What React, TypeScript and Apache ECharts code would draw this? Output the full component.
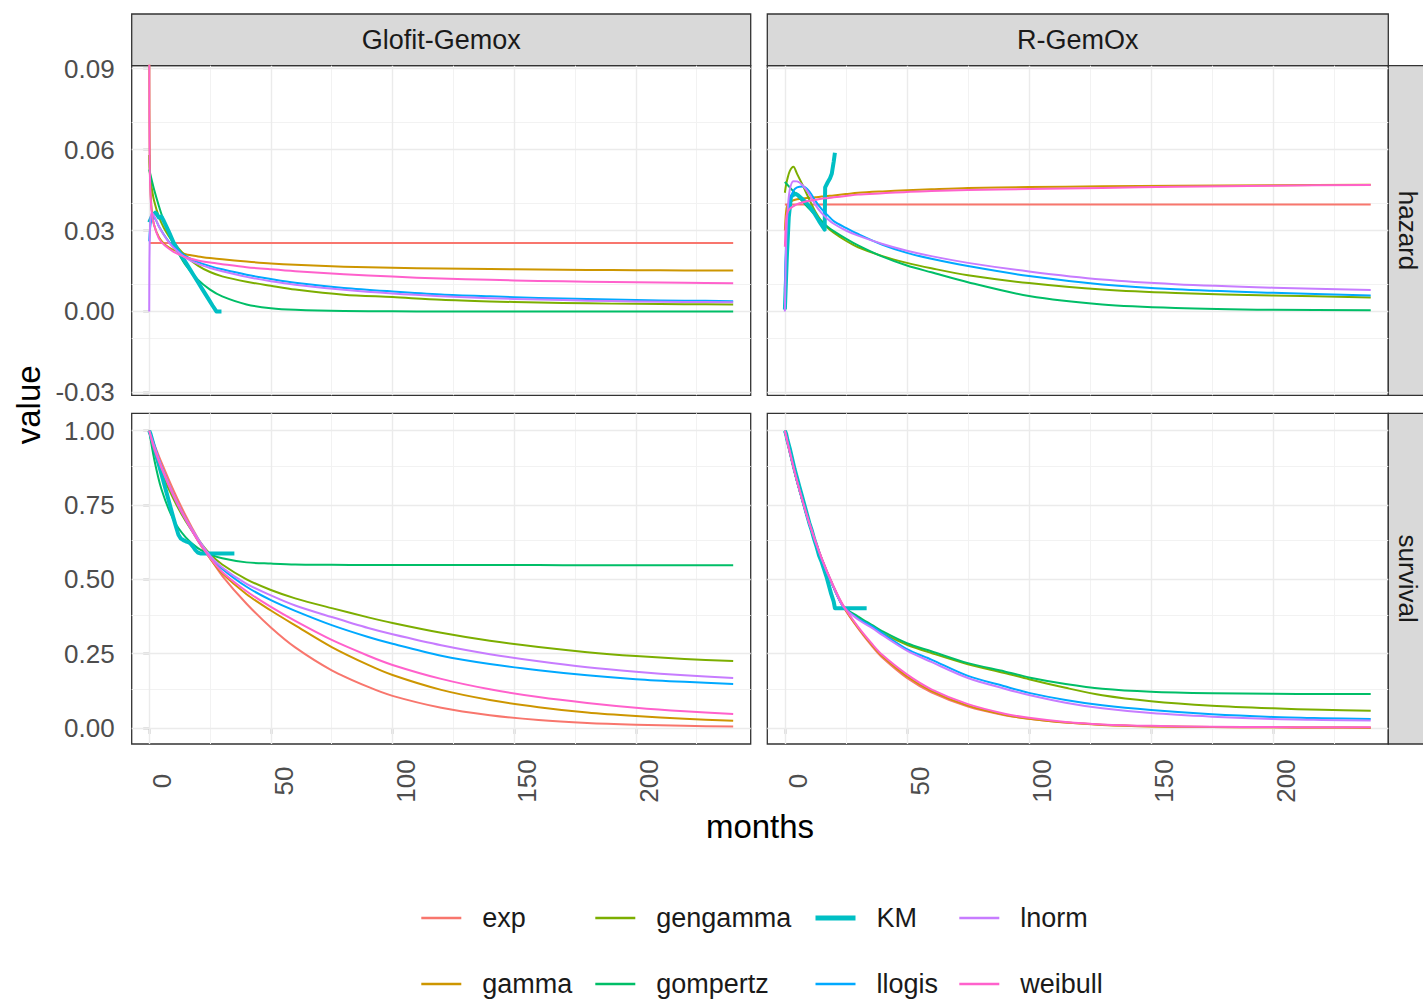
import React, { useEffect, useRef } from "react";
import * as echarts from "echarts";

// ---------- model names and colours ----------
const MODELS = ["exp", "gamma", "gengamma", "gompertz", "KM", "llogis", "lnorm", "weibull"];
const MODEL_COLORS: Record<string, string> = {
  exp: "#F8766D",
  gamma: "#CD9600",
  gengamma: "#7CAE00",
  gompertz: "#00BE67",
  KM: "#00BFC4",
  llogis: "#00A9FF",
  lnorm: "#C77CFF",
  weibull: "#FF61CC",
};

const COLUMN_LABELS = ["Glofit-Gemox", "R-GemOx"];
const ROW_LABELS = ["hazard", "survival"];

// ---------- axis breaks ----------
const MONTH_TICKS = [0, 50, 100, 150, 200];
const MONTH_MINOR = [25, 75, 125, 175, 225];
const HAZARD_TICKS = [-0.03, 0, 0.03, 0.06, 0.09];
const HAZARD_MINOR = [-0.015, 0.015, 0.045, 0.075];
const SURVIVAL_TICKS = [0, 0.25, 0.5, 0.75, 1];
const SURVIVAL_MINOR = [0.125, 0.375, 0.625, 0.875];

// ---------- hazard, Glofit-Gemox ----------
const HZ_G_T = [0, 0.05, 0.2, 0.5, 1, 2, 4, 6, 8, 10, 15, 20, 25, 30, 40, 50, 60, 80, 100, 120, 140, 160, 180, 200, 220, 240];
const HZ_G_EXP_T = [0, 240];
const HZ_G_EXP = [0.0254, 0.0254];
const HZ_G_GAMMA = [0.2, 0.085, 0.06, 0.046, 0.038, 0.032, 0.0275, 0.0252, 0.0238, 0.0228, 0.0212, 0.0204, 0.0198, 0.0193, 0.0185, 0.0178, 0.0173, 0.0166, 0.0162, 0.0159, 0.0157, 0.0155, 0.0154, 0.0153, 0.0152, 0.0152];
const HZ_G_GENGAMMA = [0.058, 0.055, 0.052, 0.049, 0.046, 0.041, 0.035, 0.031, 0.028, 0.0255, 0.0205, 0.017, 0.0146, 0.013, 0.011, 0.0095, 0.0081, 0.0062, 0.0053, 0.0043, 0.0037, 0.0033, 0.003, 0.0028, 0.0027, 0.0026];
const HZ_G_GOMPERTZ = [0.0526, 0.0524, 0.0518, 0.0507, 0.0488, 0.0452, 0.039, 0.0335, 0.029, 0.0249, 0.0171, 0.0118, 0.0081, 0.0056, 0.0026, 0.0012, 0.0006, 0.00013, 0.00003, 0, 0, 0, 0, 0, 0, 0];
const HZ_G_LLOGIS = [0.026, 0.027, 0.029, 0.032, 0.034, 0.0345, 0.0315, 0.0285, 0.026, 0.024, 0.0205, 0.0183, 0.0168, 0.0156, 0.0136, 0.012, 0.0106, 0.0087, 0.0074, 0.0063, 0.0056, 0.005, 0.0046, 0.0042, 0.004, 0.0038];
const HZ_G_LNORM = [0, 0.012, 0.027, 0.034, 0.0365, 0.0355, 0.0315, 0.0283, 0.0257, 0.0236, 0.0198, 0.0176, 0.0161, 0.0149, 0.0128, 0.0112, 0.0099, 0.008, 0.0066, 0.0056, 0.0049, 0.0044, 0.004, 0.0037, 0.0035, 0.0034];
const HZ_G_WEIBULL = [0.2, 0.075, 0.055, 0.044, 0.037, 0.032, 0.027, 0.0248, 0.0233, 0.0221, 0.0201, 0.0189, 0.0181, 0.0175, 0.0164, 0.0156, 0.0149, 0.0138, 0.0129, 0.0122, 0.0117, 0.0113, 0.011, 0.0108, 0.0106, 0.0104];
const KM_HZ_G_T = [0, 1, 2, 2.5, 3, 4, 5, 6, 8, 10, 12, 14, 16, 18, 20, 22, 24, 26, 27.6, 29.7];
const KM_HZ_G = [0.033, 0.035, 0.0362, 0.0366, 0.0362, 0.0348, 0.0352, 0.0335, 0.0297, 0.0255, 0.0225, 0.0196, 0.0167, 0.0138, 0.0109, 0.008, 0.0051, 0.0022, 0, 0];

// ---------- hazard, R-GemOx ----------
const HZ_R_T = [0, 0.5, 1, 2, 3.5, 5, 7.5, 10, 12.5, 15, 17.5, 20, 25, 30, 40, 50, 60, 75, 100, 130, 160, 200, 240];
const HZ_R_EXP_T = [0, 240];
const HZ_R_EXP = [0.0396, 0.0396];
const HZ_R_GAMMA = [0.03, 0.037, 0.0392, 0.0405, 0.0412, 0.0416, 0.0419, 0.0421, 0.0423, 0.0426, 0.0428, 0.043, 0.0435, 0.044, 0.0445, 0.0449, 0.0453, 0.0458, 0.0461, 0.0464, 0.0466, 0.0468, 0.047];
const HZ_R_GENGAMMA = [0.044, 0.047, 0.049, 0.052, 0.0536, 0.051, 0.0464, 0.0415, 0.037, 0.0335, 0.031, 0.0292, 0.0262, 0.0238, 0.0205, 0.018, 0.016, 0.0134, 0.0105, 0.0081, 0.0068, 0.0059, 0.0052];
const HZ_R_GOMPERTZ = [0.048, 0.0475, 0.047, 0.046, 0.0445, 0.043, 0.0405, 0.038, 0.0357, 0.0335, 0.0314, 0.0298, 0.027, 0.0245, 0.0203, 0.017, 0.0145, 0.0108, 0.0057, 0.0026, 0.0013, 0.0006, 0.0004];
const HZ_R_LLOGIS = [0.008, 0.026, 0.034, 0.041, 0.0447, 0.046, 0.0463, 0.0445, 0.041, 0.038, 0.0357, 0.0335, 0.031, 0.0287, 0.0247, 0.0217, 0.0195, 0.0168, 0.0131, 0.01, 0.0082, 0.0069, 0.0059];
const HZ_R_LNORM = [0, 0.025, 0.036, 0.045, 0.0483, 0.0482, 0.0465, 0.0435, 0.0395, 0.0365, 0.0343, 0.0325, 0.03, 0.0281, 0.025, 0.0225, 0.0205, 0.018, 0.0148, 0.0118, 0.0101, 0.0088, 0.0079];
const HZ_R_WEIBULL = [0.024, 0.034, 0.0365, 0.038, 0.039, 0.0398, 0.0405, 0.041, 0.0414, 0.0418, 0.042, 0.0423, 0.0428, 0.0433, 0.0438, 0.0443, 0.0446, 0.045, 0.0454, 0.0458, 0.0462, 0.0466, 0.0469];
const KM_HZ_R_T = [0, 0.8, 1.6, 2.5, 3.5, 4.5, 5.5, 7, 8.5, 10, 12, 14, 16.3, 16.5, 17.5, 18.5, 19.2, 20, 20.5];
const KM_HZ_R = [0.0007, 0.02, 0.035, 0.0425, 0.0432, 0.0436, 0.043, 0.0418, 0.0405, 0.039, 0.0365, 0.0335, 0.0303, 0.046, 0.0478, 0.0494, 0.051, 0.0555, 0.0588];

// ---------- survival, Glofit-Gemox ----------
const SV_G_T = [0, 2, 5, 10, 15, 20, 25, 30, 40, 50, 60, 75, 90, 100, 120, 140, 160, 180, 200, 220, 240];
const SV_G_EXP = [1, 0.956, 0.894, 0.799, 0.714, 0.638, 0.572, 0.512, 0.418, 0.338, 0.271, 0.194, 0.138, 0.108, 0.068, 0.043, 0.027, 0.017, 0.011, 0.007, 0.0045];
const SV_G_GAMMA = [1, 0.945, 0.88, 0.785, 0.705, 0.63, 0.57, 0.52, 0.45, 0.395, 0.345, 0.272, 0.212, 0.178, 0.128, 0.094, 0.07, 0.052, 0.04, 0.031, 0.024];
const SV_G_GENGAMMA = [1, 0.93, 0.86, 0.77, 0.695, 0.635, 0.585, 0.55, 0.5, 0.464, 0.436, 0.403, 0.372, 0.353, 0.32, 0.293, 0.272, 0.255, 0.242, 0.232, 0.225];
const SV_G_GOMPERTZ = [1, 0.906, 0.804, 0.7, 0.641, 0.605, 0.584, 0.571, 0.557, 0.553, 0.55, 0.549, 0.548, 0.548, 0.548, 0.548, 0.548, 0.547, 0.547, 0.547, 0.547];
const SV_G_LLOGIS = [1, 0.95, 0.88, 0.78, 0.7, 0.632, 0.575, 0.535, 0.475, 0.43, 0.394, 0.346, 0.306, 0.283, 0.243, 0.215, 0.194, 0.177, 0.164, 0.155, 0.148];
const SV_G_LNORM = [1, 0.95, 0.88, 0.785, 0.705, 0.637, 0.58, 0.54, 0.485, 0.446, 0.412, 0.373, 0.336, 0.315, 0.278, 0.248, 0.224, 0.204, 0.189, 0.177, 0.168];
const SV_G_WEIBULL = [1, 0.94, 0.875, 0.78, 0.7, 0.63, 0.572, 0.525, 0.46, 0.407, 0.36, 0.296, 0.243, 0.212, 0.165, 0.13, 0.104, 0.084, 0.068, 0.056, 0.047];
const KM_SV_G_T = [0, 0.5, 1, 2, 3, 4, 5, 6, 7, 8, 9, 10, 11, 12, 13, 14, 15, 16, 17, 18, 19, 20, 21, 35];
const KM_SV_G = [1, 0.99, 0.975, 0.945, 0.915, 0.885, 0.855, 0.825, 0.795, 0.765, 0.735, 0.705, 0.677, 0.65, 0.637, 0.632, 0.628, 0.625, 0.62, 0.61, 0.598, 0.59, 0.587, 0.587];

// ---------- survival, R-GemOx ----------
const SV_R_T = [0, 2, 5, 10, 15, 20, 24, 30, 36, 40, 50, 60, 75, 90, 100, 115, 130, 150, 175, 200, 220, 240];
const SV_R_EXP = [1, 0.928, 0.83, 0.688, 0.57, 0.472, 0.407, 0.335, 0.272, 0.236, 0.168, 0.12, 0.072, 0.043, 0.031, 0.018, 0.011, 0.006, 0.003, 0.002, 0.0015, 0.001];
const SV_R_GAMMA = [1, 0.928, 0.83, 0.688, 0.571, 0.474, 0.409, 0.337, 0.276, 0.241, 0.174, 0.125, 0.075, 0.044, 0.031, 0.018, 0.01, 0.005, 0.003, 0.002, 0.0015, 0.001];
const SV_R_GENGAMMA = [1, 0.93, 0.83, 0.688, 0.57, 0.473, 0.408, 0.37, 0.338, 0.318, 0.28, 0.252, 0.214, 0.185, 0.164, 0.135, 0.11, 0.09, 0.075, 0.066, 0.061, 0.058];
const SV_R_GOMPERTZ = [1, 0.93, 0.83, 0.688, 0.57, 0.473, 0.408, 0.375, 0.345, 0.325, 0.285, 0.258, 0.218, 0.19, 0.17, 0.148, 0.132, 0.122, 0.117, 0.115, 0.114, 0.114];
const SV_R_LLOGIS = [1, 0.93, 0.83, 0.688, 0.57, 0.472, 0.407, 0.368, 0.34, 0.318, 0.265, 0.23, 0.175, 0.14, 0.118, 0.094, 0.076, 0.06, 0.046, 0.037, 0.033, 0.03];
const SV_R_LNORM = [1, 0.93, 0.83, 0.688, 0.57, 0.472, 0.407, 0.365, 0.335, 0.312, 0.26, 0.222, 0.168, 0.132, 0.111, 0.085, 0.066, 0.05, 0.038, 0.03, 0.027, 0.025];
const SV_R_WEIBULL = [1, 0.928, 0.83, 0.69, 0.573, 0.476, 0.411, 0.34, 0.28, 0.245, 0.18, 0.13, 0.08, 0.048, 0.034, 0.02, 0.012, 0.007, 0.004, 0.003, 0.0025, 0.002];
const KM_SV_R_T = [0, 0.5, 1, 2, 3, 4, 5, 6, 7, 8, 9, 10, 11, 12, 13, 14, 15, 16, 17, 18, 19, 20, 20.5, 33.5];
const KM_SV_R = [1, 0.99, 0.97, 0.94, 0.905, 0.87, 0.84, 0.81, 0.78, 0.75, 0.72, 0.69, 0.665, 0.635, 0.61, 0.58, 0.56, 0.535, 0.51, 0.48, 0.45, 0.425, 0.403, 0.403];

type Curve = [number[], number[]];
type PanelCurves = Record<string, Curve>;

const HAZARD_GLOFIT: PanelCurves = {
  exp: [HZ_G_EXP_T, HZ_G_EXP],
  gamma: [HZ_G_T, HZ_G_GAMMA],
  gengamma: [HZ_G_T, HZ_G_GENGAMMA],
  gompertz: [HZ_G_T, HZ_G_GOMPERTZ],
  KM: [KM_HZ_G_T, KM_HZ_G],
  llogis: [HZ_G_T, HZ_G_LLOGIS],
  lnorm: [HZ_G_T, HZ_G_LNORM],
  weibull: [HZ_G_T, HZ_G_WEIBULL],
};
const HAZARD_RGEMOX: PanelCurves = {
  exp: [HZ_R_EXP_T, HZ_R_EXP],
  gamma: [HZ_R_T, HZ_R_GAMMA],
  gengamma: [HZ_R_T, HZ_R_GENGAMMA],
  gompertz: [HZ_R_T, HZ_R_GOMPERTZ],
  KM: [KM_HZ_R_T, KM_HZ_R],
  llogis: [HZ_R_T, HZ_R_LLOGIS],
  lnorm: [HZ_R_T, HZ_R_LNORM],
  weibull: [HZ_R_T, HZ_R_WEIBULL],
};
const SURVIVAL_GLOFIT: PanelCurves = {
  exp: [SV_G_T, SV_G_EXP],
  gamma: [SV_G_T, SV_G_GAMMA],
  gengamma: [SV_G_T, SV_G_GENGAMMA],
  gompertz: [SV_G_T, SV_G_GOMPERTZ],
  KM: [KM_SV_G_T, KM_SV_G],
  llogis: [SV_G_T, SV_G_LLOGIS],
  lnorm: [SV_G_T, SV_G_LNORM],
  weibull: [SV_G_T, SV_G_WEIBULL],
};
const SURVIVAL_RGEMOX: PanelCurves = {
  exp: [SV_R_T, SV_R_EXP],
  gamma: [SV_R_T, SV_R_GAMMA],
  gengamma: [SV_R_T, SV_R_GENGAMMA],
  gompertz: [SV_R_T, SV_R_GOMPERTZ],
  KM: [KM_SV_R_T, KM_SV_R],
  llogis: [SV_R_T, SV_R_LLOGIS],
  lnorm: [SV_R_T, SV_R_LNORM],
  weibull: [SV_R_T, SV_R_WEIBULL],
};

const PANELS = [
  { row: 0, col: 0, curves: HAZARD_GLOFIT },
  { row: 0, col: 1, curves: HAZARD_RGEMOX },
  { row: 1, col: 0, curves: SURVIVAL_GLOFIT },
  { row: 1, col: 1, curves: SURVIVAL_RGEMOX },
];

// legend columns (filled column-wise, two rows)
const LEGEND_COLUMNS = [
  ["exp", "gamma"],
  ["gengamma", "gompertz"],
  ["KM", "llogis"],
  ["lnorm", "weibull"],
];

// ---------- layout ----------
const FONT = "'Liberation Sans', Arial, Helvetica, sans-serif";
const COL_LEFT = [131.7, 767.3];
const COL_WIDTH = [619, 621];
const ROW_TOP = [65.7, 413.3];
const ROW_HEIGHT = [329.6, 330.7];
const STRIP_TOP = 14;
const STRIP_RIGHT_X = 1388.3;
const X_RANGE = { min: -7.2, max: 247.2 };
const ROW_SCALES = [
  { min: -0.0311, max: 0.0911, ticks: HAZARD_TICKS, minor: HAZARD_MINOR },
  { min: -0.054, max: 1.0585, ticks: SURVIVAL_TICKS, minor: SURVIVAL_MINOR },
];
const LEGEND_LEFT = [420, 594, 813, 958];

const MAJOR_GRID = { color: "#ebebeb", width: 1.4, type: "solid" as const };
const MINOR_GRID = { color: "#f2f2f2", width: 1, type: "solid" as const };
const AXIS_TEXT = { fontSize: 26, color: "#4d4d4d", fontFamily: FONT };

function buildOption() {
  const grid: any[] = [];
  const xAxis: any[] = [];
  const yAxis: any[] = [];
  const series: any[] = [];

  PANELS.forEach((p, i) => {
    const isBottom = p.row === 1;
    const isLeft = p.col === 0;
    const ys = ROW_SCALES[p.row];

    grid.push({
      left: COL_LEFT[p.col],
      top: ROW_TOP[p.row],
      width: COL_WIDTH[p.col],
      height: ROW_HEIGHT[p.row],
      show: true,
      backgroundColor: "#ffffff",
      borderColor: "#333333",
      borderWidth: 1.3,
    });

    xAxis.push({
      type: "value",
      gridIndex: i,
      min: X_RANGE.min,
      max: X_RANGE.max,
      axisLine: { show: false },
      splitLine: { show: false },
      axisTick: {
        show: isBottom,
        customValues: MONTH_TICKS,
        length: 6,
        lineStyle: { color: "#333333", width: 1.3 },
      },
      axisLabel: {
        show: isBottom,
        customValues: MONTH_TICKS,
        rotate: 90,
        align: "center",
        verticalAlign: "top",
        margin: 37,
        ...AXIS_TEXT,
      },
    });

    yAxis.push({
      type: "value",
      gridIndex: i,
      min: ys.min,
      max: ys.max,
      axisLine: { show: false },
      splitLine: { show: false },
      axisTick: {
        show: isLeft,
        customValues: ys.ticks,
        length: 6,
        lineStyle: { color: "#333333", width: 1.3 },
      },
      axisLabel: {
        show: isLeft,
        customValues: ys.ticks,
        margin: 17,
        formatter: (v: number) => v.toFixed(2),
        ...AXIS_TEXT,
      },
    });

    // panel grid lines, drawn through the axes' own scales
    series.push({
      type: "line",
      name: "grid-" + i,
      xAxisIndex: i,
      yAxisIndex: i,
      data: [],
      silent: true,
      markLine: {
        silent: true,
        z: 1,
        symbol: ["none", "none"],
        label: { show: false },
        emphasis: { disabled: true },
        data: [
          ...MONTH_MINOR.map((v) => ({ xAxis: v, lineStyle: MINOR_GRID })),
          ...ys.minor.map((v) => ({ yAxis: v, lineStyle: MINOR_GRID })),
          ...MONTH_TICKS.map((v) => ({ xAxis: v, lineStyle: MAJOR_GRID })),
          ...ys.ticks.map((v) => ({ yAxis: v, lineStyle: MAJOR_GRID })),
        ],
      },
    });

    MODELS.forEach((m) => {
      const [t, v] = p.curves[m];
      const isKM = m === "KM";
      series.push({
        type: "line",
        name: m,
        xAxisIndex: i,
        yAxisIndex: i,
        data: t.map((x, k) => [x, v[k]]),
        symbol: "none",
        showSymbol: false,
        smooth: isKM ? false : 0.3,
        clip: true,
        z: 3,
        lineStyle: { color: MODEL_COLORS[m], width: isKM ? 4 : 2, join: "round" },
        itemStyle: { color: MODEL_COLORS[m] },
        emphasis: { disabled: true },
      });
    });
  });

  const legend = LEGEND_COLUMNS.map((names, c) => ({
    orient: "vertical",
    left: LEGEND_LEFT[c],
    top: 904,
    padding: 0,
    itemWidth: 40,
    itemHeight: 14,
    itemGap: 38,
    selectedMode: false,
    // the line key only; the point marker is hidden
    itemStyle: { opacity: 0 },
    data: names.map((n) => ({
      name: n,
      lineStyle: { color: MODEL_COLORS[n], width: n === "KM" ? 5 : 2.6 },
    })),
    textStyle: {
      fontSize: 27,
      lineHeight: 28,
      color: "#1a1a1a",
      fontFamily: FONT,
      padding: [0, 0, 0, 16],
    },
  }));

  const graphic: any[] = [];
  COLUMN_LABELS.forEach((label, c) => {
    graphic.push({
      type: "rect",
      shape: { x: COL_LEFT[c], y: STRIP_TOP, width: COL_WIDTH[c], height: ROW_TOP[0] - STRIP_TOP },
      style: { fill: "#d9d9d9", stroke: "#333333", lineWidth: 1.3 },
    });
    graphic.push({
      type: "text",
      x: COL_LEFT[c] + COL_WIDTH[c] / 2,
      y: (STRIP_TOP + ROW_TOP[0]) / 2,
      style: { text: label, fontSize: 27, fill: "#1a1a1a", fontFamily: FONT, align: "center", verticalAlign: "middle" },
    });
  });
  ROW_LABELS.forEach((label, r) => {
    graphic.push({
      type: "rect",
      shape: { x: STRIP_RIGHT_X, y: ROW_TOP[r], width: 60, height: ROW_HEIGHT[r] },
      style: { fill: "#d9d9d9", stroke: "#333333", lineWidth: 1.3 },
    });
    graphic.push({
      type: "text",
      x: STRIP_RIGHT_X + 19.5,
      y: ROW_TOP[r] + ROW_HEIGHT[r] / 2,
      rotation: -Math.PI / 2,
      style: {
        text: label,
        fontSize: 26,
        lineHeight: 26,
        fill: "#1a1a1a",
        fontFamily: FONT,
        align: "center",
        verticalAlign: "middle",
      },
    });
  });
  graphic.push({
    type: "text",
    x: 28,
    y: (ROW_TOP[0] + ROW_TOP[1] + ROW_HEIGHT[1]) / 2,
    rotation: Math.PI / 2,
    style: { text: "value", fontSize: 33, fill: "#000000", fontFamily: FONT, align: "center", verticalAlign: "middle" },
  });
  graphic.push({
    type: "text",
    x: 760,
    y: 826,
    style: { text: "months", fontSize: 33, fill: "#000000", fontFamily: FONT, align: "center", verticalAlign: "middle" },
  });

  return {
    animation: false,
    backgroundColor: "#ffffff",
    textStyle: { fontFamily: FONT },
    grid,
    xAxis,
    yAxis,
    series,
    legend,
    graphic,
  };
}

export default function App() {
  const ref = useRef<HTMLDivElement | null>(null);

  useEffect(() => {
    if (!ref.current) return;
    const chart = echarts.init(ref.current, undefined, { renderer: "svg" });
    chart.setOption(buildOption() as any);
    return () => chart.dispose();
  }, []);

  return (
    <div
      ref={ref}
      style={{ position: "fixed", left: 0, top: 0, width: 1423, height: 1000, background: "#ffffff" }}
    />
  );
}
